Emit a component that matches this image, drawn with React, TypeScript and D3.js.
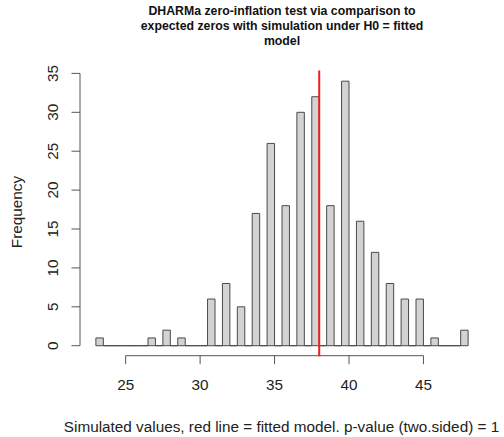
import React from "react";
import * as d3 from "d3";

// Observed simulated values (integer outcomes) and their frequencies
const simulatedValues = [23, 24, 25, 26, 27, 28, 29, 30, 31, 32, 33, 34, 35, 36, 37, 38, 39, 40, 41, 42, 43, 44, 45, 46, 47, 48];
const frequencies = [1, 0, 0, 0, 1, 2, 1, 0, 6, 8, 5, 17, 26, 18, 30, 32, 18, 34, 16, 12, 8, 6, 6, 1, 0, 2];
const xTicks = [25, 30, 35, 40, 45];
const yTicks = [0, 5, 10, 15, 20, 25, 30, 35];
const fittedValue = 38;
const titleLines = [
  "DHARMa zero-inflation test via comparison to",
  "expected zeros with simulation under H0 = fitted",
  "model",
];
const xLabel = "Simulated values, red line = fitted model. p-value (two.sided) = 1";
const yLabel = "Frequency";

const W = 504;
const H = 437;
const FONT = "'Liberation Sans', Arial, Helvetica, sans-serif";

export default function App() {
  // R-style breaks at 0.5 steps, right-closed bins, lowest included
  const minV = d3.min(simulatedValues) as number;
  const maxV = d3.max(simulatedValues) as number;
  const breaks = d3.range(minV, maxV + 0.25, 0.5);
  const bins = breaks.slice(0, -1).map((b, i) => ({ x0: b, x1: breaks[i + 1], count: 0 }));
  simulatedValues.forEach((v, i) => {
    const idx = bins.findIndex((b, j) => (j === 0 ? v >= b.x0 && v <= b.x1 : v > b.x0 && v <= b.x1));
    if (idx >= 0) bins[idx].count += frequencies[i];
  });

  const maxCount = d3.max(frequencies) as number;
  const xr = maxV - minV;
  const x = d3.scaleLinear().domain([minV - 0.04 * xr, maxV + 0.04 * xr]).range([81, 483]);
  const y = d3.scaleLinear().domain([-0.04 * maxCount, maxCount * 1.04]).range([356.3, 70.6]);

  const axisY = 355.7;
  const axisX = 80;
  const tickLen = 8.5;
  const fs = 15.3;

  const barPath = (b: { x0: number; x1: number; count: number }) => {
    const p = d3.path();
    p.moveTo(x(b.x0), y(0));
    p.lineTo(x(b.x0), y(b.count));
    p.lineTo(x(b.x1), y(b.count));
    p.lineTo(x(b.x1), y(0));
    p.closePath();
    return p.toString();
  };

  return (
    <svg width={W} height={H} style={{ position: "absolute", left: 0, top: 0, background: "#fff" }} fontFamily={FONT}>
      <rect x={0} y={0} width={W} height={H} fill="#fff" />
      {/* title */}
      {titleLines.map((t, i) => (
        <text key={i} x={282} y={15 + i * 15} textAnchor="middle" fontWeight="bold" fontSize={12.3} fill="#111">
          {t}
        </text>
      ))}
      {/* bars */}
      {bins.map((b, i) => (
        <path key={i} d={barPath(b)} fill="#d3d3d3" stroke="#4a4a4a" strokeWidth={1} />
      ))}
      {/* fitted line */}
      <line x1={x(fittedValue)} x2={x(fittedValue)} y1={y.range()[1]} y2={y.range()[0]} stroke="#ee1c1c" strokeWidth={2} />
      {/* x axis */}
      <line x1={x(xTicks[0])} x2={x(xTicks[xTicks.length - 1])} y1={axisY} y2={axisY} stroke="#555" />
      {xTicks.map((t) => (
        <g key={t}>
          <line x1={x(t)} x2={x(t)} y1={axisY} y2={axisY + tickLen} stroke="#555" />
          <text x={x(t)} y={389.5} textAnchor="middle" fontSize={fs} fill="#222">
            {t}
          </text>
        </g>
      ))}
      {/* y axis */}
      <line x1={axisX} x2={axisX} y1={y(yTicks[0])} y2={y(yTicks[yTicks.length - 1])} stroke="#555" />
      {yTicks.map((t) => (
        <g key={t}>
          <line x1={axisX - tickLen} x2={axisX} y1={y(t)} y2={y(t)} stroke="#555" />
          <text transform={`translate(${57.5},${y(t)}) rotate(-90)`} textAnchor="middle" fontSize={fs} fill="#222">
            {t}
          </text>
        </g>
      ))}
      {/* axis labels */}
      <text x={281.5} y={432} textAnchor="middle" fontSize={fs} fill="#222">
        {xLabel}
      </text>
      <text transform={`translate(22,${212}) rotate(-90)`} textAnchor="middle" fontSize={fs} fill="#222">
        {yLabel}
      </text>
    </svg>
  );
}
